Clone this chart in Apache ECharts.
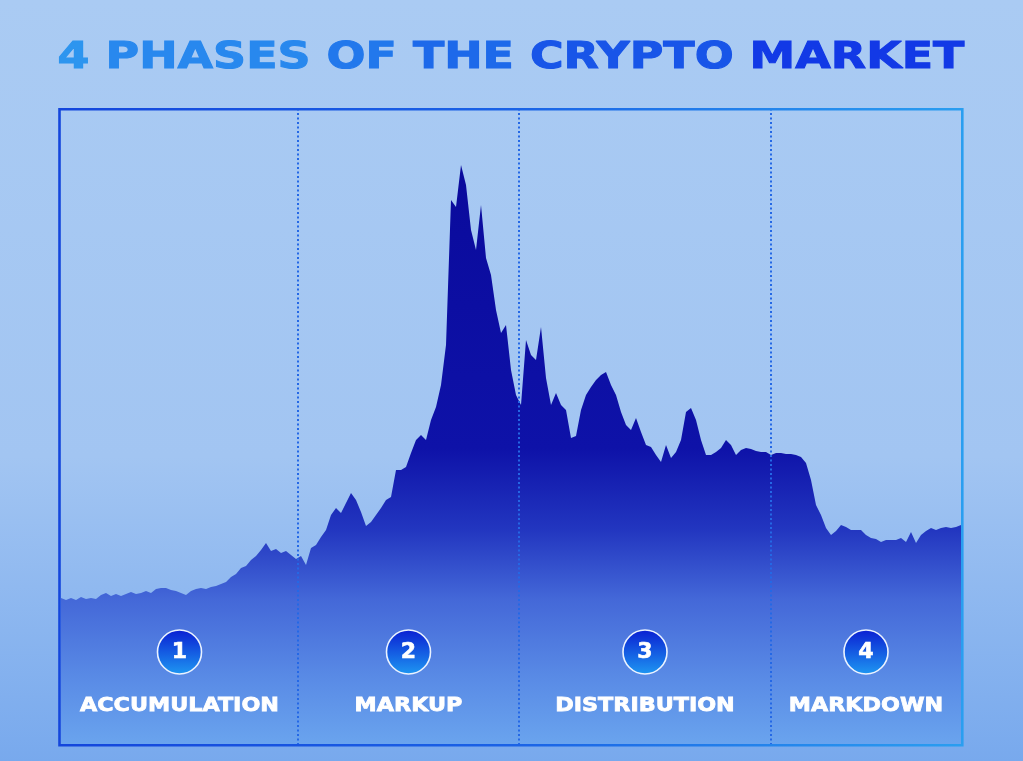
<!DOCTYPE html>
<html>
<head>
<meta charset="utf-8">
<script src="https://cdn.jsdelivr.net/npm/echarts@6/dist/echarts.min.js"></script>
<style>
html,body{margin:0;padding:0;width:1023px;height:761px;overflow:hidden;background:#a6c8f2}
#c{width:1023px;height:761px}
</style>
</head>
<body>
<div id="c"></div>
<script>
// ---------- data ----------
const titleWords = ['4', 'PHASES', 'OF', 'THE', 'CRYPTO', 'MARKET'];
const titleColors = ['#2d95ef', '#2888ee', '#2278ec', '#1d69ea', '#1855e8', '#1239e6'];
const phaseNames = ['ACCUMULATION', 'MARKUP', 'DISTRIBUTION', 'MARKDOWN'];
const phaseNumbers = ['1', '2', '3', '4'];
// phase boundaries, in period index units (x axis)
const phaseBounds = [47.4, 91.6, 142];
// price index per period
const price = [
  147,145,147,145,148,146,147,146,150,152,149,151,149,151,153,151,152,154,152,156,
  157,157,155,154,152,150,154,156,157,156,158,159,161,163,168,171,177,179,185,189,
  195,202,194,196,192,194,190,186,189,180,197,200,208,215,230,237,232,242,252,245,
  233,219,223,230,237,245,248,275,275,278,292,305,310,305,325,338,360,400,545,538,
  580,560,515,495,540,487,470,435,412,420,375,350,340,405,390,385,418,367,340,352,
  340,335,307,309,335,350,358,365,370,373,360,350,333,320,315,327,313,300,298,290,
  283,300,287,293,305,333,337,325,305,290,290,293,297,305,300,290,295,297,296,294,
  293,293,290,292,292,291,291,290,288,282,265,240,230,217,210,214,220,218,215,215,
  215,210,207,206,203,205,205,205,207,203,213,202,210,214,217,215,217,218,217,218,
  220
];

// ---------- chart ----------
const chart = echarts.init(document.getElementById('c'), null, {renderer: 'canvas'});
const G = echarts.graphic;
const FONT = '"DejaVu Sans", sans-serif';
const mctx = document.createElement('canvas').getContext('2d');
function textWidth(text, size) {
  mctx.font = 'bold ' + size + 'px ' + FONT;
  return mctx.measureText(text).width;
}

chart.setOption({
  animation: false,
  backgroundColor: 'transparent',
  grid: {left: 61, right: 62, top: 109, bottom: 16},
  xAxis: {type: 'value', min: 0, max: price.length - 1, show: false},
  yAxis: {type: 'value', min: 0, max: 636, show: false},
  series: [{
    type: 'line',
    data: price.map((v, i) => [i, v]),
    symbol: 'none',
    showSymbol: false,
    lineStyle: {opacity: 0},
    areaStyle: {
      opacity: 1,
      color: new G.LinearGradient(0, 163, 0, 745, [
        {offset: 0, color: '#0a0a9c'},
        {offset: 0.49, color: '#0e12a8'},
        {offset: 0.63, color: '#2236c0'},
        {offset: 0.75, color: '#4468d8'},
        {offset: 0.89, color: '#5a8ce6'},
        {offset: 1, color: '#6aa4ee'}
      ], true)
    },
    markLine: {
      silent: true,
      symbol: 'none',
      label: {show: false},
      lineStyle: {color: '#2468e6', width: 2, type: [2, 2.5]},
      data: phaseBounds.map(b => ({xAxis: b}))
    }
  }]
});

// ---------- decorations ----------
const edges = [0].concat(phaseBounds, [price.length - 1]);
const centers = [];
for (let i = 0; i < phaseNames.length; i++) {
  centers.push(chart.convertToPixel({xAxisIndex: 0}, (edges[i] + edges[i + 1]) / 2));
}

const graphics = [];
// background
graphics.push({
  type: 'rect', z: -100, silent: true,
  shape: {x: 0, y: 0, width: 1023, height: 761},
  style: {fill: new G.LinearGradient(0, 0, 0, 1, [
    {offset: 0, color: '#aacbf3'},
    {offset: 0.6, color: '#a2c5f2'},
    {offset: 1, color: '#78a9ed'}
  ])}
});
// frame
graphics.push({
  type: 'rect', z: 100, silent: true,
  shape: {x: 59.5, y: 109.2, width: 902.8, height: 636},
  style: {
    fill: null,
    lineWidth: 2.6,
    stroke: new G.LinearGradient(59, 0, 963, 0, [
      {offset: 0, color: '#1446dc'},
      {offset: 0.5, color: '#1a62e6'},
      {offset: 1, color: '#2a9ef0'}
    ], true)
  }
});
// title (rich text, stretched to width)
const titleSize = 37;
const titleStr = titleWords.join(' ');
const titleScale = 908 / (textWidth(titleStr, titleSize) + 1);
const rich = {};
titleWords.forEach((w, i) => {
  rich['w' + i] = {fill: titleColors[i], stroke: titleColors[i], lineWidth: 1.0, font: 'bold ' + titleSize + 'px ' + FONT};
});
graphics.push({
  type: 'text', z: 110, silent: true,
  x: 511, y: 58.5, scaleX: titleScale,
  style: {
    text: titleWords.map((w, i) => '{w' + i + '|' + w + '}').join('{w0| }'),
    rich: rich,
    font: 'bold ' + titleSize + 'px ' + FONT,
    align: 'center', verticalAlign: 'middle'
  }
});
// phase circles and names
const labelSize = 20;
const labelScale = 200 / (textWidth(phaseNames[0], labelSize) + 1);
centers.forEach((cx, i) => {
  graphics.push({
    type: 'circle', z: 110, silent: true,
    shape: {cx: cx, cy: 652, r: 22},
    style: {
      fill: new G.LinearGradient(0, 0, 0, 1, [
        {offset: 0, color: '#0a1ed2'},
        {offset: 1, color: '#1e98f2'}
      ]),
      stroke: '#eaf2ff', lineWidth: 1.6
    }
  });
  graphics.push({
    type: 'text', z: 111, silent: true,
    x: cx, y: 652.5,
    style: {text: phaseNumbers[i], fill: '#ffffff', stroke: '#ffffff', lineWidth: 0.6, font: 'bold 22px ' + FONT, align: 'center', verticalAlign: 'middle'}
  });
  graphics.push({
    type: 'text', z: 111, silent: true,
    x: cx, y: 705.5, scaleX: labelScale,
    style: {text: phaseNames[i], fill: '#ffffff', stroke: '#ffffff', lineWidth: 0.8, font: 'bold ' + labelSize + 'px ' + FONT, align: 'center', verticalAlign: 'middle'}
  });
});
chart.setOption({graphic: graphics});
</script>
</body>
</html>
